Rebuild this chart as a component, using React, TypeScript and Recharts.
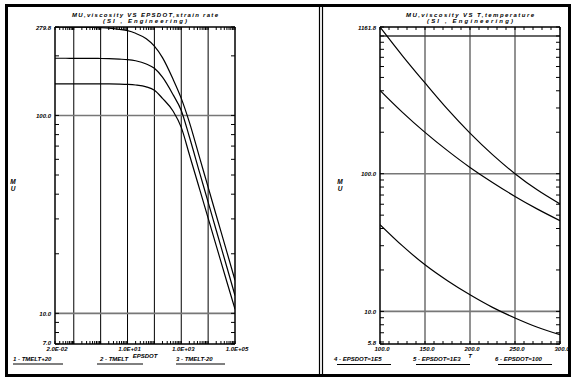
import React from "react";
import { LineChart, Line, XAxis, YAxis, ReferenceLine } from "recharts";

// left panel: MU vs EPSDOT (strain rate), one curve per melt temperature
const rates = [0.02, 0.05, 0.1, 0.2, 0.5, 1, 2, 5, 10, 20, 50, 100, 200, 500, 1000, 2000, 5000, 10000, 20000, 50000, 100000];
const muTmeltPlus20 = [144.5, 144.5, 144.5, 144.5, 144.4, 144.4, 144.3, 144, 143.5, 142.5, 139.5, 134, 122, 105, 87, 63.5, 41.7, 30.3, 22, 14.4, 10.5];
const muTmelt = [194.5, 194.5, 194.4, 194.4, 194.2, 194, 193.5, 192.5, 191.5, 189, 182, 173, 156, 127, 106, 78, 50.5, 36.5, 26.3, 17.1, 12.3];
const muTmeltMinus20 = [279.8, 279.7, 279.5, 279.2, 278.5, 277.5, 276, 272, 268, 260, 244, 224, 196, 152, 122, 92.5, 60.1, 43.4, 31.3, 20.4, 14.7];
const leftLegend = ["1 - TMELT+20", "2 - TMELT", "3 - TMELT-20"];

// right panel: MU vs T (temperature), one curve per strain rate
const temps = [100, 125, 150, 175, 200, 225, 250, 275, 300];
const muEps1E5 = [42.7, 29.9, 21.8, 16.7, 13.2, 10.7, 8.96, 7.67, 6.77];
const muEps1E3 = [403, 279, 199.5, 147, 111, 86.4, 68.4, 55.3, 45.6];
const muEps100 = [1161.8, 718, 456, 294, 197, 137.5, 100, 76, 60.3];
const rightLegend = ["4 - EPSDOT=1E5", "5 - EPSDOT=1E3", "6 - EPSDOT=100"];

// axis ranges and labelled ticks
const leftXDomain = [0.02, 100000];
const leftYDomain = [7, 279.8];
const leftXLabelled = [0.02, 10, 1000, 100000];
const leftYLabelled = [7, 10, 100, 279.8];
const leftXGrid = [0.1, 1, 10, 100, 1000, 10000];
const leftYGrid = [10, 100];

const rightXDomain = [100, 300];
const rightYDomain = [5.8, 1161.8];
const rightXLabelled = [100, 150, 200, 250, 300];
const rightYLabelled = [5.8, 10, 100, 1161.8];
const rightXGrid = [150, 200, 250];
const rightYGrid = [10, 100, 1000];

const leftData = rates.map((r, i) => ({
  rate: r,
  p20: muTmeltPlus20[i],
  m0: muTmelt[i],
  m20: muTmeltMinus20[i],
}));
const rightData = temps.map((t, i) => ({
  t,
  e5: muEps1E5[i],
  e3: muEps1E3[i],
  e2: muEps100[i],
}));

const font = {
  fontFamily: "'Liberation Sans', Arial, sans-serif",
  fontWeight: 700,
  fontStyle: "italic" as const,
  fontSize: 6,
};

const PW = 180; // plot width
const PH = 317; // plot height

function logTicks(lo: number, hi: number) {
  const out: number[] = [lo];
  for (let d = -3; d <= 4; d++) {
    for (let m = 1; m <= 9; m++) {
      const v = parseFloat((m * Math.pow(10, d)).toPrecision(6));
      if (v > lo * 1.0001 && v < hi * 0.9999) out.push(v);
    }
  }
  out.push(hi);
  return out;
}

const has = (arr: number[], v: number) => arr.some((a) => Math.abs(a - v) < 1e-6 * Math.max(1, a));

function fmtExp(v: number) {
  const [m, e] = v.toExponential(1).split("e");
  const n = parseInt(e, 10);
  return `${m}E${n < 0 ? "-" : "+"}${String(Math.abs(n)).padStart(2, "0")}`;
}

function yTick(labelled: number[], bottom: number) {
  return (props: any) => {
    const { x, y, payload } = props;
    const v = payload.value;
    return (
      <g>
        <line x1={x} y1={y} x2={x + 4} y2={y} stroke="#000" />
        <line x1={x + PW} y1={y} x2={x + PW - 4} y2={y} stroke="#000" />
        {has(labelled, v) && (
          <text x={x - 4} y={Math.abs(v - bottom) < 1e-6 ? y + 0.5 : y + 2.5} textAnchor="end" {...font}>
            {v.toFixed(1)}
          </text>
        )}
      </g>
    );
  };
}

function xTick(labelled: number[], fmt: (v: number) => string) {
  return (props: any) => {
    const { x, y, payload } = props;
    const v = payload.value;
    return (
      <g>
        <line x1={x} y1={y} x2={x} y2={y - 3} stroke="#000" />
        <line x1={x} y1={y - PH} x2={x} y2={y - PH + 3} stroke="#000" />
        {has(labelled, v) && (
          <text x={x + 2} y={y + 6.5} textAnchor="middle" {...font}>
            {fmt(v)}
          </text>
        )}
      </g>
    );
  };
}

const rightXTicks = Array.from({ length: 21 }, (_, i) => 100 + i * 10);

export default function App() {
  const axisLine = { stroke: "#000", strokeWidth: 1.5 };
  const lineProps = { type: "monotone" as const, stroke: "#000", strokeWidth: 1.2, dot: false, isAnimationActive: false };

  return (
    <div style={{ position: "fixed", left: 0, top: 0, width: 574, height: 380, background: "#fff" }}>
      <div style={{ position: "absolute", left: 0, top: 0 }}>
        <LineChart width={290} height={380} data={leftData} margin={{ top: 27, right: 55, bottom: 16, left: 10 }}>
          <XAxis
            dataKey="rate"
            type="number"
            scale="log"
            domain={leftXDomain}
            allowDataOverflow
            ticks={logTicks(leftXDomain[0], leftXDomain[1])}
            interval={0}
            height={20}
            tickSize={0}
            tickMargin={0}
            tickLine={false}
            axisLine={axisLine}
            tick={xTick(leftXLabelled, fmtExp)}
          />
          <YAxis
            type="number"
            scale="log"
            domain={leftYDomain}
            allowDataOverflow
            ticks={logTicks(leftYDomain[0], leftYDomain[1])}
            interval={0}
            width={45}
            tickSize={0}
            tickMargin={0}
            tickLine={false}
            axisLine={axisLine}
            tick={yTick(leftYLabelled, leftYDomain[0])}
          />
          {leftXGrid.map((v) => (
            <ReferenceLine key={"lx" + v} x={v} stroke="#000" strokeWidth={1} />
          ))}
          {leftYGrid.map((v) => (
            <ReferenceLine key={"ly" + v} y={v} stroke="#777" strokeWidth={1.6} />
          ))}
          <ReferenceLine x={leftXDomain[1]} stroke="#000" strokeWidth={1.5} />
          <ReferenceLine y={leftYDomain[1]} stroke="#000" strokeWidth={1.5} />
          <Line dataKey="p20" {...lineProps} />
          <Line dataKey="m0" {...lineProps} />
          <Line dataKey="m20" {...lineProps} />
        </LineChart>
      </div>

      <div style={{ position: "absolute", left: 300, top: 0 }}>
        <LineChart width={274} height={380} data={rightData} margin={{ top: 27, right: 14, bottom: 16, left: 35 }}>
          <XAxis
            dataKey="t"
            type="number"
            domain={rightXDomain}
            allowDataOverflow
            ticks={rightXTicks}
            interval={0}
            height={20}
            tickSize={0}
            tickMargin={0}
            tickLine={false}
            axisLine={axisLine}
            tick={xTick(rightXLabelled, (v) => v.toFixed(1))}
          />
          <YAxis
            type="number"
            scale="log"
            domain={rightYDomain}
            allowDataOverflow
            ticks={logTicks(rightYDomain[0], rightYDomain[1])}
            interval={0}
            width={45}
            tickSize={0}
            tickMargin={0}
            tickLine={false}
            axisLine={axisLine}
            tick={yTick(rightYLabelled, rightYDomain[0])}
          />
          {rightXGrid.map((v) => (
            <ReferenceLine key={"rx" + v} x={v} stroke="#777" strokeWidth={1.6} />
          ))}
          {rightYGrid.map((v) => (
            <ReferenceLine key={"ry" + v} y={v} stroke={v === 1000 ? "#333" : "#777"} strokeWidth={1.6} />
          ))}
          <ReferenceLine x={rightXDomain[1]} stroke="#000" strokeWidth={1.5} />
          <ReferenceLine y={rightYDomain[1]} stroke="#000" strokeWidth={1.5} />
          <Line dataKey="e5" {...lineProps} />
          <Line dataKey="e3" {...lineProps} />
          <Line dataKey="e2" {...lineProps} />
        </LineChart>
      </div>

      <svg width={574} height={380} style={{ position: "absolute", left: 0, top: 0, pointerEvents: "none" }}>
        <rect x={6.5} y={5.5} width={563} height={370} fill="none" stroke="#000" strokeWidth={3} />
        <line x1={319.5} y1={7} x2={319.5} y2={374} stroke="#000" strokeWidth={1.2} />
        <line x1={322.5} y1={7} x2={322.5} y2={374} stroke="#000" strokeWidth={1.2} />

        <text x={145} y={17.3} textAnchor="middle" textLength={146} lengthAdjust="spacing" {...font}>
          MU,viscosity VS EPSDOT,strain rate
        </text>
        <text x={145} y={22.8} textAnchor="middle" textLength={84} lengthAdjust="spacing" {...font}>
          (SI , Engineering)
        </text>
        <text x={470} y={17.3} textAnchor="middle" textLength={128} lengthAdjust="spacing" {...font}>
          MU,viscosity VS T,temperature
        </text>
        <text x={470} y={22.8} textAnchor="middle" textLength={86} lengthAdjust="spacing" {...font}>
          (SI , Engineering)
        </text>

        <text x={145} y={357.5} textAnchor="middle" {...font}>EPSDOT</text>
        <text x={470} y={357.5} textAnchor="middle" {...font}>T</text>

        {[13, 340].map((x) => (
          <g key={"mu" + x}>
            <text x={x} y={184} textAnchor="middle" {...font} fontSize={6.5}>M</text>
            <text x={x} y={190.5} textAnchor="middle" {...font} fontSize={6.5}>U</text>
          </g>
        ))}

        {leftLegend.map((label, i) => {
          const x0 = [13, 97, 176][i];
          const w = [50, 46, 49][i];
          return (
            <g key={label}>
              <text x={x0 + (i === 1 ? 3 : 0)} y={360.5} {...font}>{label}</text>
              <line x1={x0} y1={364} x2={x0 + w} y2={364} stroke="#000" strokeWidth={1} />
            </g>
          );
        })}
        {rightLegend.map((label, i) => {
          const x0 = [334, 413, 495][i];
          return (
            <g key={label}>
              <text x={x0} y={360.5} {...font}>{label}</text>
              <line x1={x0 + 3} y1={364.5} x2={x0 + 57} y2={364.5} stroke="#000" strokeWidth={1} />
            </g>
          );
        })}
      </svg>
    </div>
  );
}
